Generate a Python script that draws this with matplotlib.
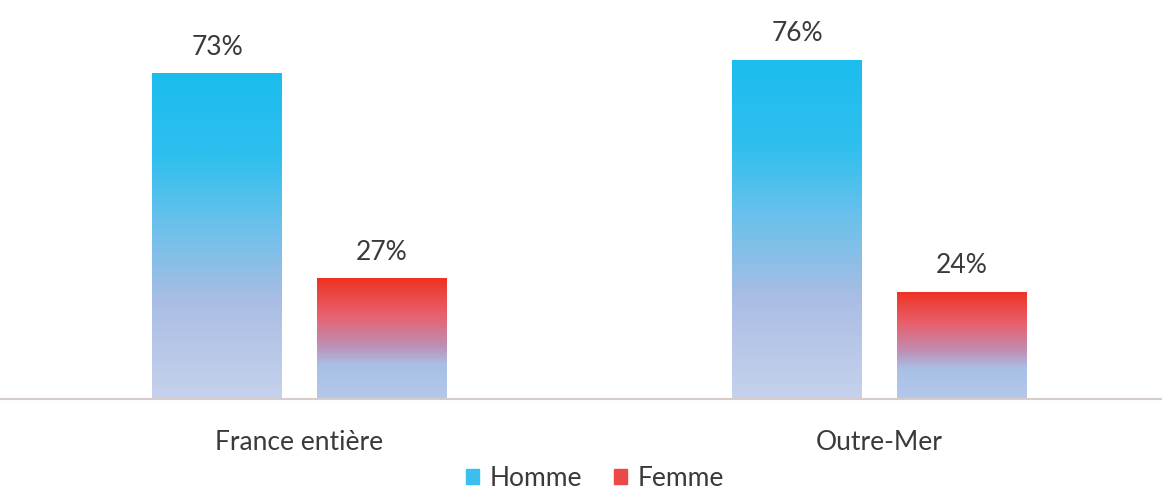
import numpy as np
import matplotlib
matplotlib.use("Agg")
import matplotlib.pyplot as plt
from matplotlib.colors import LinearSegmentedColormap
from matplotlib.patches import Rectangle

categories = ["France entière", "Outre-Mer"]
series = ["Homme", "Femme"]
homme = [73, 76]
femme = [27, 24]

plt.rcParams['font.family'] = ['Lato', 'DejaVu Sans']

cmap_homme = LinearSegmentedColormap.from_list(
    "homme", [(0.0, "#c6d2ec"), (0.3, "#a9bde4"), (0.55, "#66c1ec"), (0.75, "#2ebfee"), (1.0, "#1bbdee")])
cmap_femme = LinearSegmentedColormap.from_list(
    "femme", [(0.0, "#b4c8ea"), (0.28, "#a8c0e6"), (0.45, "#c08db2"), (0.7, "#e8606c"), (1.0, "#ee3222")])

fig = plt.figure(figsize=(11.62, 4.91), dpi=100)
ax = fig.add_axes([0, 1 - 399 / 491, 1, 399 / 491])

x = np.arange(len(categories))
width = 0.224
offset = 0.142

grad = np.linspace(0, 1, 256).reshape(-1, 1)

def gradient_bars(xs, vals, cmap):
    bars = ax.bar(xs, vals, width, color="none", edgecolor="none")
    for b, v in zip(bars, vals):
        x0, w = b.get_x(), b.get_width()
        im = ax.imshow(grad, cmap=cmap, origin="lower", aspect="auto",
                       extent=(x0, x0 + w, 0, v), zorder=2)
        im.set_clip_path(b)
        ax.text(x0 + w / 2, v + 3.0, f"{v}%", ha="center", va="bottom",
                fontsize=19, color="#3a3a3a")
    return bars

gradient_bars(x - offset, homme, cmap_homme)
gradient_bars(x + offset, femme, cmap_femme)

ax.set_xlim(-299.5 / 580, 1 + (1162 - 879.5) / 580)
ax.set_ylim(0, 89.4)

for s in ["top", "right", "left"]:
    ax.spines[s].set_visible(False)
ax.spines["bottom"].set_color("#d6cccc")
ax.spines["bottom"].set_linewidth(1.5)
ax.set_yticks([])
ax.set_xticks(x)
ax.set_xticklabels(categories, fontsize=19, color="#3a3a3a")
ax.tick_params(axis="x", length=0, pad=22)

handles = [Rectangle((0, 0), 1, 1, color=cmap_homme(0.7)),
           Rectangle((0, 0), 1, 1, color=cmap_femme(0.85))]
fig.legend(handles, series, loc="center", bbox_to_anchor=(595 / 1162, 1 - 478 / 491),
           ncol=2, frameon=False, fontsize=19, handlelength=0.5, handleheight=0.5,
           handletextpad=0.4, columnspacing=1.2, labelcolor="#3a3a3a")

fig.savefig("out.png", dpi=100)
